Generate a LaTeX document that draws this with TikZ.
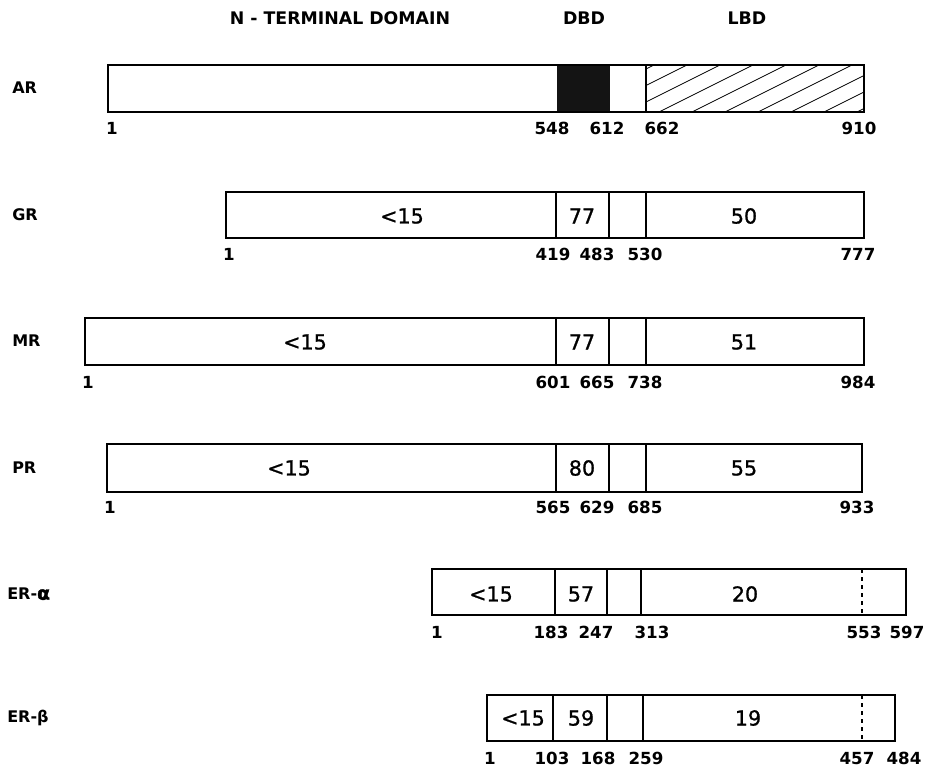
\documentclass[tikz,border=0pt]{standalone}
\usepackage{fontspec}
\setmainfont{DejaVu Sans}
\newfontfamily\identfont[FakeBold=1]{DejaVu Sans}
\newfontfamily\heavyfont[FakeBold=2]{DejaVu Sans Bold}
\usetikzlibrary{positioning}

\tikzset{
    bar/.style={draw, line width=1.2pt},
    divider/.style={line width=1pt},
    hatch/.style={line width=0.6pt},
    header/.style={font=\bfseries\fontsize{13}{13}\selectfont},
    rowname/.style={font=\bfseries\fontsize{12}{12}\selectfont, anchor=west, inner sep=0pt},
    resnum/.style={font=\bfseries\fontsize{12.5}{12.5}\selectfont, anchor=north, inner sep=0pt},
    ident/.style={font=\identfont\fontsize{15.5}{15.5}\selectfont, inner sep=0pt},
}
\newcommand{\biggreek}[1]{{\heavyfont\fontsize{14}{14}\selectfont #1}}

\begin{document}
\begin{tikzpicture}[x=0.75pt, y=-0.75pt]
    \useasboundingbox (0,0) rectangle (941,769);

    % Domain headings
    \node[header] (hNterm) at (340,18) {N - TERMINAL DOMAIN};
    \node[header] (hDBD) at (584,18) {DBD};
    \node[header] (hLBD) at (747,18) {LBD};

    % AR
    \node[rowname] (nAR) at (12,88) {AR};
    \fill[black!92] (557,65) rectangle (610,112);
    \begin{scope}
        \clip (646,65) rectangle (864,112);
        \foreach \x in {560,593,...,900} {
            \draw[hatch] (\x,112) -- ++(94,-47);
        }
    \end{scope}
    \draw[bar] (108,65) rectangle (864,112);
    \draw[divider] (646,65) -- (646,112);
    \foreach \x/\n in {112/1, 552/548, 607/612, 662/662, 859/910} {
        \node[resnum] (ar\n) at (\x,122) {\n};
    }

    % GR
    \node[rowname] (nGR) at (12,215) {GR};
    \draw[bar] (226,192) rectangle (864,238);
    \foreach \x in {556,609,646} {
        \draw[divider] (\x,192) -- (\x,238);
    }
    \node[ident] (gNt) at (402,216) {<15};
    \node[ident] (gDbd) at (582,216) {77};
    \node[ident] (gLbd) at (744,216) {50};
    \foreach \x/\n in {229/1, 553/419, 597/483, 645/530, 858/777} {
        \node[resnum] (gr\n) at (\x,248) {\n};
    }

    % MR
    \node[rowname] (nMR) at (12,341) {MR};
    \draw[bar] (85,318) rectangle (864,365);
    \foreach \x in {556,609,646} {
        \draw[divider] (\x,318) -- (\x,365);
    }
    \node[ident] (mNt) at (305,342) {<15};
    \node[ident] (mDbd) at (582,342) {77};
    \node[ident] (mLbd) at (744,342) {51};
    \foreach \x/\n in {88/1, 553/601, 597/665, 645/738, 858/984} {
        \node[resnum] (mr\n) at (\x,376) {\n};
    }

    % PR
    \node[rowname] (nPR) at (12,468) {PR};
    \draw[bar] (107,444) rectangle (862,492);
    \foreach \x in {556,609,646} {
        \draw[divider] (\x,444) -- (\x,492);
    }
    \node[ident] (pNt) at (289,468) {<15};
    \node[ident] (pDbd) at (582,468) {80};
    \node[ident] (pLbd) at (744,468) {55};
    \foreach \x/\n in {110/1, 553/565, 597/629, 645/685, 857/933} {
        \node[resnum] (pr\n) at (\x,501) {\n};
    }

    % ER-alpha
    \node[rowname] (nERa) at (7,594) {ER-\biggreek{α}};
    \draw[bar] (432,569) rectangle (906,615);
    \foreach \x in {555,607,641} {
        \draw[divider] (\x,569) -- (\x,615);
    }
    \draw[divider, dashed] (862,569) -- (862,615);
    \node[ident] (aNt) at (491,594) {<15};
    \node[ident] (aDbd) at (581,594) {57};
    \node[ident] (aLbd) at (745,594) {20};
    \foreach \x/\n in {437/1, 551/183, 596/247, 652/313, 864/553, 907/597} {
        \node[resnum] (era\n) at (\x,626) {\n};
    }

    % ER-beta
    \node[rowname] (nERb) at (7,718) {ER-β};
    \draw[bar] (487,695) rectangle (895,741);
    \foreach \x in {553,607,643} {
        \draw[divider] (\x,695) -- (\x,741);
    }
    \draw[divider, dashed] (862,695) -- (862,741);
    \node[ident] (bNt) at (523,718) {<15};
    \node[ident] (bDbd) at (581,718) {59};
    \node[ident] (bLbd) at (748,718) {19};
    \foreach \x/\n in {490/1, 552/103, 598/168, 646/259, 857/457, 904/484} {
        \node[resnum] (erb\n) at (\x,752) {\n};
    }
\end{tikzpicture}
\end{document}
